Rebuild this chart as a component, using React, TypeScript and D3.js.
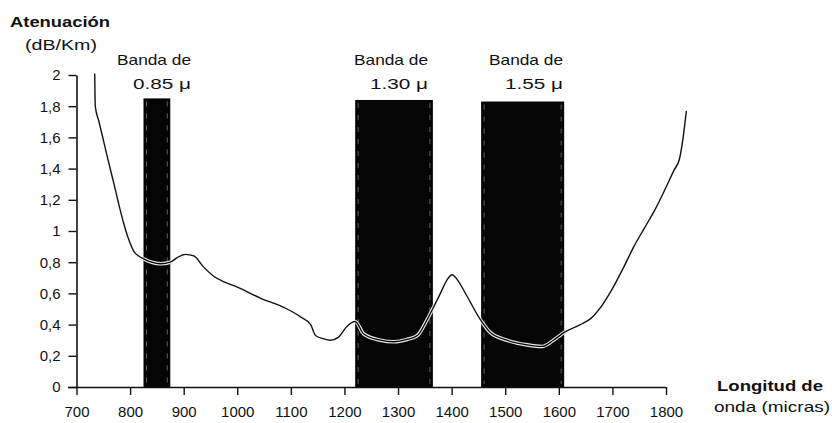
import React, { useRef, useEffect } from 'react';
import * as d3 from 'd3';

// curva de atenuación (nm, dB/Km)
const wavelengths = [
  734, 735, 742, 751, 760, 770, 779, 788, 797, 807, 816, 826, 840, 857, 875, 888,
  903, 919, 937, 956, 978, 1000, 1043, 1093, 1118, 1137, 1146, 1160, 1174, 1189,
  1205, 1220, 1236, 1267, 1292, 1317, 1336, 1354, 1366, 1379, 1392, 1401, 1410,
  1429, 1454, 1472, 1503, 1541, 1569, 1590, 1610, 1640, 1660, 1680, 1700, 1720,
  1740, 1760, 1780, 1800, 1815, 1825, 1832, 1838,
];
const attenuation = [
  2.01, 1.8, 1.7, 1.57, 1.44, 1.3, 1.17, 1.05, 0.95, 0.87, 0.84, 0.82, 0.8, 0.79,
  0.8, 0.83, 0.85, 0.84, 0.77, 0.71, 0.67, 0.64, 0.57, 0.5, 0.45, 0.4, 0.33, 0.31,
  0.3, 0.32, 0.39, 0.42, 0.34, 0.3, 0.29, 0.305, 0.33, 0.43, 0.51, 0.6, 0.69, 0.72,
  0.69, 0.58, 0.43, 0.35, 0.3, 0.27, 0.26, 0.3, 0.35, 0.4, 0.44, 0.52, 0.63, 0.76,
  0.9, 1.02, 1.14, 1.28, 1.39, 1.46, 1.6, 1.77,
];

// bandas de transmisión
const bandStart = [825, 1220, 1455];
const bandEnd = [875, 1365, 1610];
const bandTop = [1.85, 1.84, 1.83];
const bandNames = ['0.85', '1.30', '1.55'];

const xTicks = [700, 800, 900, 1000, 1100, 1200, 1300, 1400, 1500, 1600, 1700, 1800];
const yTicks = [0, 0.2, 0.4, 0.6, 0.8, 1, 1.2, 1.4, 1.6, 1.8, 2];

const W = 832;
const H = 423;
const FONT = '"Liberation Sans", Arial, sans-serif';

function AttenuationChart() {
  const svgRef = useRef<SVGSVGElement>(null);

  useEffect(() => {
    const svg = d3.select(svgRef.current);
    svg.selectAll('*').remove();

    const x = d3.scaleLinear().domain([700, 1800]).range([76.5, 666]);
    const y = d3.scaleLinear().domain([0, 2]).range([387, 75]);

    const pts = wavelengths.map((w, i) => [w, attenuation[i]] as [number, number]);
    const line = d3
      .line<[number, number]>()
      .x((d) => x(d[0]))
      .y((d) => y(d[1]))
      .curve(d3.curveMonotoneX);

    const bands = bandStart.map((s, i) => ({
      s,
      e: bandEnd[i],
      top: bandTop[i],
      name: bandNames[i],
    }));

    // curva fuera de las bandas
    svg
      .append('path')
      .datum(pts)
      .attr('d', line)
      .attr('fill', 'none')
      .attr('stroke', '#111')
      .attr('stroke-width', 1.4);

    // bandas negras
    svg
      .append('g')
      .selectAll('rect')
      .data(bands)
      .join('rect')
      .attr('x', (d) => x(d.s))
      .attr('y', (d) => y(d.top))
      .attr('width', (d) => x(d.e) - x(d.s))
      .attr('height', (d) => y(0) - y(d.top))
      .attr('fill', '#050505');

    // lineas punteadas blancas del borde (escaneo)
    const edges = svg.append('g').attr('stroke', '#fff').attr('stroke-width', 0.8)
      .attr('stroke-dasharray', '5,7').attr('opacity', 0.45);
    bands.forEach((d) => {
      [x(d.s) + 3, x(d.e) - 3].forEach((ex) => {
        edges
          .append('line')
          .attr('x1', ex)
          .attr('x2', ex)
          .attr('y1', y(d.top) + 3)
          .attr('y2', y(0) - 3);
      });
    });

    // curva dentro de las bandas (linea doble blanca)
    const clip = svg.append('clipPath').attr('id', 'bandClip');
    clip
      .selectAll('rect')
      .data(bands)
      .join('rect')
      .attr('x', (d) => x(d.s))
      .attr('y', (d) => y(d.top))
      .attr('width', (d) => x(d.e) - x(d.s))
      .attr('height', (d) => y(0) - y(d.top));
    const inner = svg.append('g').attr('clip-path', 'url(#bandClip)');
    inner
      .append('path')
      .datum(pts)
      .attr('d', line)
      .attr('fill', 'none')
      .attr('stroke', '#e8e8e8')
      .attr('stroke-width', 3.6);
    inner
      .append('path')
      .datum(pts)
      .attr('d', line)
      .attr('fill', 'none')
      .attr('stroke', '#050505')
      .attr('stroke-width', 1.3);

    // eje X
    const xAxis = svg
      .append('g')
      .attr('transform', `translate(0,${y(0)})`)
      .call(
        d3
          .axisBottom(x)
          .tickValues(xTicks)
          .tickSize(8)
          .tickPadding(11)
          .tickSizeOuter(0)
          .tickFormat(d3.format('d'))
      );
    xAxis.select('.domain').attr('stroke', '#111').attr('stroke-width', 1.4)
      .attr('d', `M68,0.5H${x(1800)}`);
    xAxis.selectAll('.tick line').attr('stroke', '#111').attr('stroke-width', 1.4);
    xAxis
      .selectAll('.tick text')
      .attr('font-family', FONT)
      .attr('font-size', 15)
      .attr('fill', '#111');

    // eje Y
    const yAxis = svg
      .append('g')
      .attr('transform', `translate(${x(700)},0)`)
      .call(
        d3
          .axisLeft(y)
          .tickValues(yTicks)
          .tickSize(8)
          .tickPadding(8)
          .tickSizeOuter(0)
          .tickFormat((d) => d3.format('~g')(d as number).replace('.', ','))
      );
    yAxis.select('.domain').attr('stroke', '#111').attr('stroke-width', 1.6);
    yAxis.selectAll('.tick line').attr('stroke', '#111').attr('stroke-width', 1.4);
    yAxis
      .selectAll('.tick text')
      .attr('font-family', FONT)
      .attr('font-size', 15)
      .attr('fill', '#111');

    // etiquetas de bandas
    const labRight = [191, 428, 563];
    const labels = svg.append('g').attr('font-family', FONT).attr('fill', '#111');
    bands.forEach((d, i) => {
      labels
        .append('text')
        .attr('x', labRight[i])
        .attr('y', 65)
        .attr('text-anchor', 'end')
        .attr('font-size', 15)
        .attr('textLength', 74)
        .attr('lengthAdjust', 'spacingAndGlyphs')
        .text('Banda de');
      labels
        .append('text')
        .attr('x', labRight[i])
        .attr('y', 89)
        .attr('text-anchor', 'end')
        .attr('font-size', 15)
        .attr('textLength', 58)
        .attr('lengthAdjust', 'spacingAndGlyphs')
        .text(`${d.name}  \u03bc`);
    });

    // titulos de ejes
    const titles = svg.append('g').attr('font-family', FONT).attr('fill', '#111');
    titles
      .append('text')
      .attr('x', 10)
      .attr('y', 27)
      .attr('font-size', 15)
      .attr('font-weight', 'bold')
      .attr('textLength', 100)
      .attr('lengthAdjust', 'spacingAndGlyphs')
      .text('Atenuación');
    titles
      .append('text')
      .attr('x', 25)
      .attr('y', 50)
      .attr('font-size', 14)
      .attr('textLength', 72)
      .attr('lengthAdjust', 'spacingAndGlyphs')
      .text('(dB/Km)');
    titles
      .append('text')
      .attr('x', 717)
      .attr('y', 391)
      .attr('font-size', 15)
      .attr('font-weight', 'bold')
      .attr('textLength', 106)
      .attr('lengthAdjust', 'spacingAndGlyphs')
      .text('Longitud de');
    titles
      .append('text')
      .attr('x', 714)
      .attr('y', 412)
      .attr('font-size', 15)
      .attr('textLength', 116)
      .attr('lengthAdjust', 'spacingAndGlyphs')
      .text('onda (micras)');
  }, []);

  return <svg ref={svgRef} width={W} height={H} style={{ display: 'block' }}></svg>;
}

export default function App() {
  return (
    <div style={{ position: 'absolute', left: 0, top: 0, background: '#fff' }}>
      <AttenuationChart />
    </div>
  );
}
